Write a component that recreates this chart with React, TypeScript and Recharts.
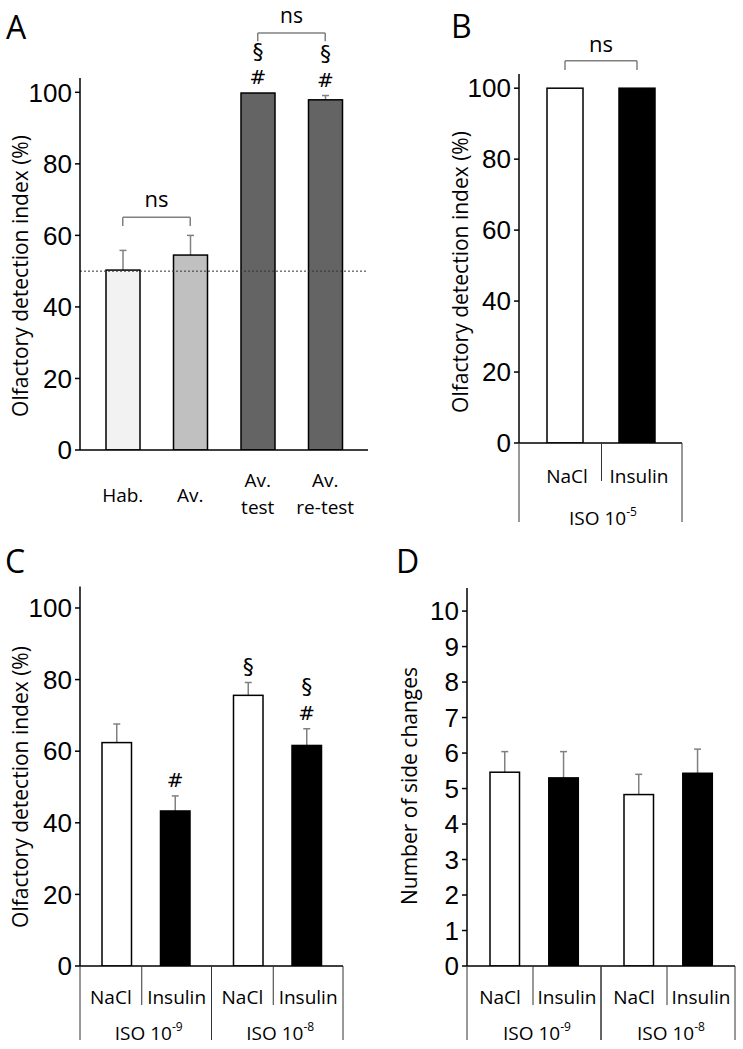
import React from "react";
import { BarChart, Bar, XAxis, YAxis, Cell, LabelList, ReferenceLine } from "recharts";

// A: olfactory detection index across conditioning phases
const aGroups = ["Hab.", "Av.", "Av. test", "Av. re-test"];
const aIndex = [50.3, 54.5, 99.8, 97.9];
const aSem = [5.5, 5.5, 0, 1.2];
const aMarks = ["", "", "§ #", "§ #"];
const aFills = ["#f2f2f2", "#c0c0c0", "#646464", "#646464"];

// B: ISO 10^-5
const bGroups = ["NaCl", "Insulin"];
const bIndex = [100, 100];
const bFills = ["#ffffff", "#000000"];

// C / D: ISO 10^-9 and 10^-8
const isoGroups = ["ISO 10^-9", "ISO 10^-8"];
const cNacl = [62.4, 75.6];
const cNaclSem = [5.2, 3.6];
const cInsulin = [43.3, 61.6];
const cInsulinSem = [4.2, 4.7];
const cNaclMarks = ["", "§"];
const cInsulinMarks = ["#", "§ #"];

const dNacl = [5.46, 4.83];
const dNaclSem = [0.58, 0.57];
const dInsulin = [5.3, 5.43];
const dInsulinSem = [0.74, 0.68];

const pctTicks = [0, 20, 40, 60, 80, 100];
const countTicks = [0, 1, 2, 3, 4, 5, 6, 7, 8, 9, 10];

const TXT = "'Open Sans', 'Noto Sans', sans-serif";
const NUM = "'Liberation Sans', Arial, sans-serif";
const MARK = "'DejaVu Sans', sans-serif";
const GREY = "#808080";

const aRows = aGroups.map((g, i) => ({ group: g, value: aIndex[i], sem: aSem[i], marks: aMarks[i] }));
const bRows = bGroups.map((g, i) => ({ group: g, value: bIndex[i], sem: 0 }));
const cRows = isoGroups.map((g, i) => ({
  group: g,
  nacl: cNacl[i], naclSem: cNaclSem[i], naclMarks: cNaclMarks[i],
  insulin: cInsulin[i], insulinSem: cInsulinSem[i], insulinMarks: cInsulinMarks[i],
}));
const dRows = isoGroups.map((g, i) => ({
  group: g,
  nacl: dNacl[i], naclSem: dNaclSem[i],
  insulin: dInsulin[i], insulinSem: dInsulinSem[i],
}));

// bar + one-sided (upward) SEM whisker
const errShape = (valKey: string, semKey: string) => (p: any) => {
  const { x, y, width, height, fill, payload } = p;
  const v = payload?.[valKey] ?? 0;
  const e = payload?.[semKey] ?? 0;
  const ppu = v ? height / v : 0;
  const cx = x + width / 2;
  const top = y - e * ppu;
  return (
    <g>
      {e > 0 && (
        <g stroke={GREY} strokeWidth={1.5}>
          <line x1={cx} y1={y} x2={cx} y2={top} />
          <line x1={cx - 3.5} y1={top} x2={cx + 3.5} y2={top} />
        </g>
      )}
      <rect x={x} y={y} width={width} height={height} fill={fill} stroke="#000" strokeWidth={1.5} />
    </g>
  );
};

// significance marks stacked above the whisker
const markLabel = (vals: number[], sems: number[]) => (p: any) => {
  const vb = p.viewBox ?? p;
  const { x, y, width, height } = vb;
  const { value, index } = p;
  if (!value) return null;
  const v = vals[index] ?? 0;
  const ppu = v ? height / v : 0;
  const top = y - (sems[index] ?? 0) * ppu;
  const lines = String(value).split(" ");
  const cx = x + width / 2;
  const first = top - 16 - (lines.length - 1) * 26;
  return (
    <g>
      {lines.map((s, i) => (
        <text key={i} x={cx} y={first + i * 26} textAnchor="middle" dominantBaseline="central"
          fontFamily={MARK} fontSize={s === "§" ? 22 : 20} fill="#000">
          {s}
        </text>
      ))}
    </g>
  );
};

const txt = (x: number, y: number, s: React.ReactNode, size = 19) => (
  <text x={x} y={y} textAnchor="middle" dominantBaseline="central" fontSize={size} fontFamily={TXT} fill="#000">
    {s}
  </text>
);

const isoText = (x: number, y: number, label: string) => {
  const [base, exp] = label.split("^");
  return (
    <text x={x} y={y} textAnchor="middle" dominantBaseline="central" fontSize={19} fontFamily={TXT} fill="#000">
      <tspan>{base}</tspan>
      <tspan dy={-7} fontSize={12}>{exp}</tspan>
    </text>
  );
};

const ATick = (p: any) => {
  const { x, y, payload } = p;
  const words = String(payload.value).split(" ");
  if (words.length === 1) return txt(x, y + 45, words[0]);
  return (
    <g>
      {txt(x, y + 30, words[0])}
      {txt(x, y + 57, words[1])}
    </g>
  );
};

const BTick = (p: any) => {
  const { x, y, payload, index } = p;
  return (
    <g>
      <g stroke="#333" strokeWidth={1}>
        {index === 0 && <line x1={x - 46} y1={y} x2={x - 46} y2={y + 79} />}
        {index === 0 && <line x1={x + 36.5} y1={y} x2={x + 36.5} y2={y + 38} />}
        {index === 1 && <line x1={x + 45} y1={y} x2={x + 45} y2={y + 79} />}
      </g>
      {txt(x + 2, y + 33, payload.value)}
      {index === 0 && isoText(x + 38, y + 75, "ISO 10^-5")}
    </g>
  );
};

const groupTick = (half: number, split: number) => (p: any) => {
  const { x, y, payload } = p;
  const l = x - half, r = x + half, m = x + split;
  return (
    <g>
      <g stroke="#333" strokeWidth={1}>
        <line x1={l} y1={y} x2={l} y2={y + 74} />
        <line x1={r} y1={y} x2={r} y2={y + 74} />
        <line x1={m} y1={y} x2={m} y2={y + 39} />
      </g>
      {txt((l + m) / 2, y + 31, "NaCl")}
      {txt((m + r) / 2, y + 31, "Insulin")}
      {isoText(x + 3, y + 67, payload.value)}
    </g>
  );
};

const axisStyle = { stroke: "#000", strokeWidth: 1.5 };
const numTick = { fill: "#000", fontSize: 26, fontFamily: NUM };
const bracket = { stroke: GREY, strokeWidth: 1.5, ifOverflow: "visible" as const };
const nsLabel = (offset: number, size = 22) => ({
  value: "ns", position: "top" as const, offset, fontSize: size, fontFamily: TXT, fill: "#000",
});

export default function App() {
  return (
    <div style={{ position: "absolute", left: 0, top: 0, width: 743, height: 1049, background: "#fff", overflow: "hidden" }}>
      {/* A */}
      <div style={{ position: "absolute", left: 0, top: 0 }}>
        <BarChart width={380} height={530} data={aRows} margin={{ top: 78, right: 12, bottom: 0, left: 0 }} barSize={34}>
          <XAxis dataKey="group" height={80} padding={{ left: 9, right: 9 }} axisLine={axisStyle}
            tickLine={false} tickSize={0} tickMargin={0} interval={0} tick={<ATick />} />
          <YAxis width={80} domain={[0, 104]} ticks={pctTicks} allowDataOverflow axisLine={axisStyle}
            tickLine={axisStyle} tickSize={5} tickMargin={3} tick={numTick} />
          <ReferenceLine y={50} stroke="#333" strokeWidth={1} strokeDasharray="2 2" />
          <Bar dataKey="value" shape={errShape("value", "sem")} isAnimationActive={false}>
            {aRows.map((r, i) => <Cell key={r.group} fill={aFills[i]} />)}
            <LabelList dataKey="marks" content={markLabel(aIndex, aSem)} />
          </Bar>
          <ReferenceLine segment={[{ x: "Hab.", y: 65.1 }, { x: "Av.", y: 65.1 }]} {...bracket} label={nsLabel(10)} />
          <ReferenceLine segment={[{ x: "Hab.", y: 65.1 }, { x: "Hab.", y: 62.6 }]} {...bracket} />
          <ReferenceLine segment={[{ x: "Av.", y: 65.1 }, { x: "Av.", y: 62.6 }]} {...bracket} />
          <ReferenceLine segment={[{ x: "Av. test", y: 116.6 }, { x: "Av. re-test", y: 116.6 }]} {...bracket} label={nsLabel(10, 21)} />
          <ReferenceLine segment={[{ x: "Av. test", y: 116.6 }, { x: "Av. test", y: 114.3 }]} {...bracket} />
          <ReferenceLine segment={[{ x: "Av. re-test", y: 116.6 }, { x: "Av. re-test", y: 114.3 }]} {...bracket} />
        </BarChart>
      </div>

      {/* B */}
      <div style={{ position: "absolute", left: 380, top: 0 }}>
        <BarChart width={363} height={530} data={bRows} margin={{ top: 74, right: 61, bottom: 0, left: 0 }} barSize={36}>
          <XAxis dataKey="group" height={87} padding={{ left: 10, right: 9 }} axisLine={axisStyle}
            tickLine={false} tickSize={0} tickMargin={0} interval={0} tick={<BTick />} />
          <YAxis width={139} domain={[0, 104]} ticks={pctTicks} allowDataOverflow axisLine={axisStyle}
            tickLine={axisStyle} tickSize={5} tickMargin={3} tick={numTick} />
          <Bar dataKey="value" shape={errShape("value", "sem")} isAnimationActive={false}>
            {bRows.map((r, i) => <Cell key={r.group} fill={bFills[i]} />)}
          </Bar>
          <ReferenceLine segment={[{ x: "NaCl", y: 107.7 }, { x: "Insulin", y: 107.7 }]} {...bracket} label={nsLabel(9)} />
          <ReferenceLine segment={[{ x: "NaCl", y: 107.7 }, { x: "NaCl", y: 105.1 }]} {...bracket} />
          <ReferenceLine segment={[{ x: "Insulin", y: 107.7 }, { x: "Insulin", y: 105.1 }]} {...bracket} />
        </BarChart>
      </div>

      {/* C */}
      <div style={{ position: "absolute", left: 0, top: 540 }}>
        <BarChart width={380} height={509} data={cRows} margin={{ top: 46.5, right: 37, bottom: 0, left: 0 }}
          barSize={29.5} barGap={29}>
          <XAxis dataKey="group" height={83} axisLine={axisStyle} tickLine={false} tickSize={0} tickMargin={0}
            interval={0} tick={groupTick(65.75, -4)} />
          <YAxis width={80} domain={[0, 106]} ticks={pctTicks} allowDataOverflow axisLine={axisStyle}
            tickLine={axisStyle} tickSize={5} tickMargin={3} tick={numTick} />
          <Bar dataKey="nacl" fill="#ffffff" shape={errShape("nacl", "naclSem")} isAnimationActive={false}>
            <LabelList dataKey="naclMarks" content={markLabel(cNacl, cNaclSem)} />
          </Bar>
          <Bar dataKey="insulin" fill="#000000" shape={errShape("insulin", "insulinSem")} isAnimationActive={false}>
            <LabelList dataKey="insulinMarks" content={markLabel(cInsulin, cInsulinSem)} />
          </Bar>
        </BarChart>
      </div>

      {/* D */}
      <div style={{ position: "absolute", left: 380, top: 540 }}>
        <BarChart width={363} height={509} data={dRows} margin={{ top: 48, right: 8, bottom: 0, left: 0 }}
          barSize={29.5} barGap={29.3}>
          <XAxis dataKey="group" height={83} axisLine={axisStyle} tickLine={false} tickSize={0} tickMargin={0}
            interval={0} tick={groupTick(67, -1)} />
          <YAxis width={87} domain={[0, 10.65]} ticks={countTicks} allowDataOverflow axisLine={axisStyle}
            tickLine={axisStyle} tickSize={5} tickMargin={3} tick={numTick} />
          <Bar dataKey="nacl" fill="#ffffff" shape={errShape("nacl", "naclSem")} isAnimationActive={false} />
          <Bar dataKey="insulin" fill="#000000" shape={errShape("insulin", "insulinSem")} isAnimationActive={false} />
        </BarChart>
      </div>

      {/* panel letters and axis titles */}
      <svg width={743} height={1049} style={{ position: "absolute", left: 0, top: 0, pointerEvents: "none" }}>
        <g fontFamily={TXT} fontSize={32} fill="#000">
          <text x={6} y={39}>A</text>
          <text x={451} y={38}>B</text>
          <text x={5} y={573}>C</text>
          <text x={396} y={573}>D</text>
        </g>
        <g fontFamily={TXT} fontSize={21} fill="#000" textAnchor="middle" dominantBaseline="central">
          <text x={20} y={276} transform="rotate(-90 20 276)">Olfactory detection index (%)</text>
          <text x={460} y={272} transform="rotate(-90 460 272)">Olfactory detection index (%)</text>
          <text x={20} y={787} transform="rotate(-90 20 787)">Olfactory detection index (%)</text>
          <text x={409} y={786} transform="rotate(-90 409 786)">Number of side changes</text>
        </g>
      </svg>
    </div>
  );
}
